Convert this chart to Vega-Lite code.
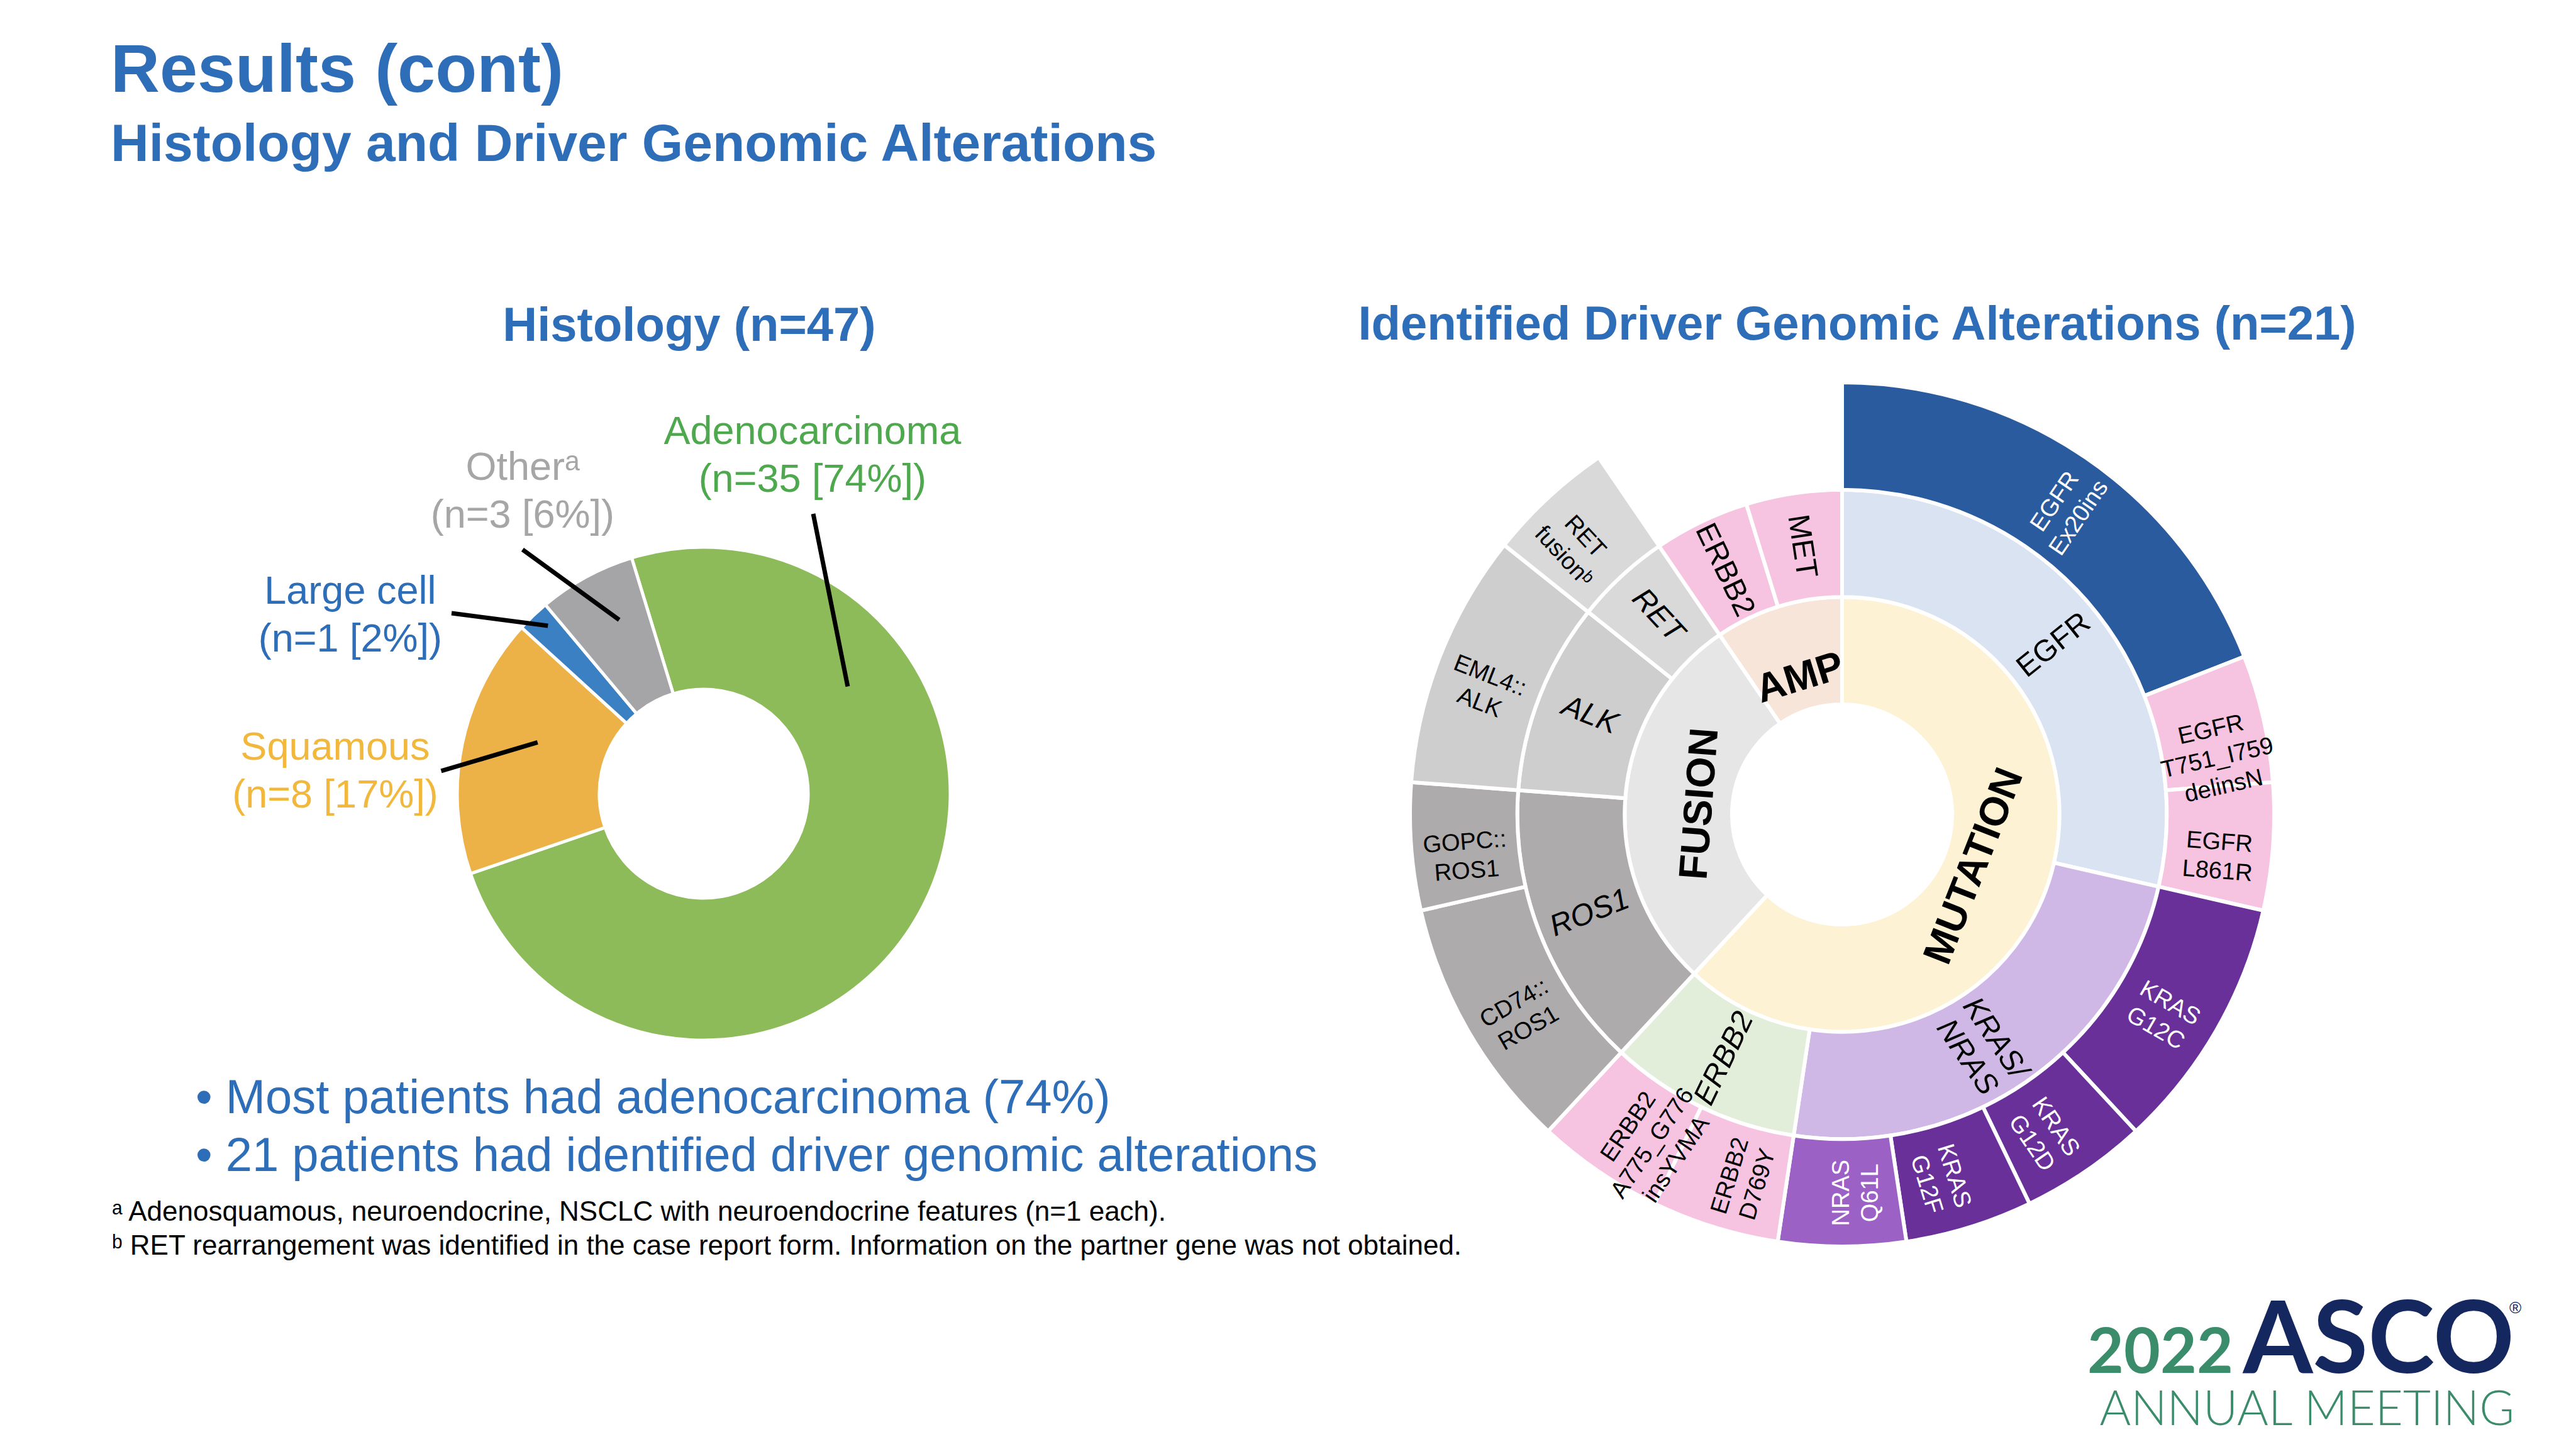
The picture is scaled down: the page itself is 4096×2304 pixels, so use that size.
{
  "$schema": "https://vega.github.io/schema/vega-lite/v6.json",
  "background": "white",
  "padding": {"left": 176, "top": 60, "right": 0, "bottom": 0},
  "bounds": "flush",
  "spacing": 1886,
  "config": {"view": {"stroke": null}, "font": "Liberation Sans"},
  "title": {
    "text": "Results (cont)",
    "subtitle": "Histology and Driver Genomic Alterations",
    "anchor": "start",
    "frame": "group",
    "font": "Liberation Sans",
    "fontSize": 108,
    "fontWeight": "bold",
    "color": "#2E6DB7",
    "subtitleFont": "Liberation Sans",
    "subtitleFontSize": 84,
    "subtitleFontWeight": "bold",
    "subtitleColor": "#2E6DB7",
    "subtitlePadding": 21,
    "offset": 205
  },
  "hconcat": [
    {
      "spacing": 68,
      "bounds": "flush",
      "vconcat": [
        {
          "width": 1886,
          "height": 880,
          "title": {"text": "Histology (n=47)", "frame": "group", "font": "Liberation Sans", "fontSize": 76, "fontWeight": "bold", "color": "#2E6DB7", "dx": -23, "offset": 98},
          "resolve": {"scale": {"color": "independent"}},
          "layer": [
            {
              "data": {"values": [
                {"type": "Adenocarcinoma", "n": 35, "order": 1},
                {"type": "Squamous", "n": 8, "order": 2},
                {"type": "Large cell", "n": 1, "order": 3},
                {"type": "Other", "n": 3, "order": 4}
              ]},
              "mark": {"type": "arc", "outerRadius": 392, "innerRadius": 166, "stroke": "white", "strokeWidth": 5},
              "encoding": {
                "theta": {"field": "n", "type": "quantitative", "stack": true, "scale": {"range": [-0.2967, 5.9865]}},
                "order": {"field": "order", "type": "quantitative"},
                "color": {"field": "type", "type": "nominal", "scale": {"domain": ["Adenocarcinoma", "Squamous", "Large cell", "Other"], "range": ["#8DBB5A", "#EDB247", "#3A80C3", "#A5A5A7"]}, "legend": null}
              }
            },
            {
              "data": {"values": [
                {"type": "Adenocarcinoma", "x1": 0.444, "y1": 1.135, "x2": 0.584, "y2": 0.435},
                {"type": "Other", "x1": -0.735, "y1": 0.990, "x2": -0.343, "y2": 0.705},
                {"type": "Large cell", "x1": -1.023, "y1": 0.732, "x2": -0.632, "y2": 0.681},
                {"type": "Squamous", "x1": -1.065, "y1": 0.092, "x2": -0.674, "y2": 0.208}
              ]},
              "mark": {"type": "rule", "color": "black", "strokeWidth": 7},
              "encoding": {
                "x": {"field": "x1", "type": "quantitative", "scale": {"domain": [-2.4056, 2.4056], "nice": false, "zero": false}, "axis": null},
                "y": {"field": "y1", "type": "quantitative", "scale": {"domain": [-1.1224, 1.1224], "nice": false, "zero": false}, "axis": null},
                "x2": {"field": "x2"},
                "y2": {"field": "y2"}
              }
            },
            {
              "data": {"values": [
                {"type": "Adenocarcinoma", "text": "Adenocarcinoma\n(n=35 [74%])", "lx": 0.441, "ly": 1.418},
                {"type": "Other", "text": "Otherᵃ\n(n=3 [6%])", "lx": -0.735, "ly": 1.273},
                {"type": "Large cell", "text": "Large cell\n(n=1 [2%])", "lx": -1.434, "ly": 0.770},
                {"type": "Squamous", "text": "Squamous\n(n=8 [17%])", "lx": -1.495, "ly": 0.138}
              ]},
              "mark": {"type": "text", "font": "Liberation Sans", "fontSize": 63, "lineHeight": 76, "lineBreak": "\n", "align": "center", "baseline": "alphabetic"},
              "encoding": {
                "x": {"field": "lx", "type": "quantitative", "scale": {"domain": [-2.4056, 2.4056], "nice": false, "zero": false}, "axis": null},
                "y": {"field": "ly", "type": "quantitative", "scale": {"domain": [-1.1224, 1.1224], "nice": false, "zero": false}, "axis": null},
                "text": {"field": "text"},
                "color": {"field": "type", "type": "nominal", "scale": {"domain": ["Adenocarcinoma", "Squamous", "Large cell", "Other"], "range": ["#4EA94E", "#F2B83D", "#2E6DB7", "#A6A6A6"]}, "legend": null}
              }
            }
          ]
        },
        {
          "width": 270,
          "height": 103,
          "data": {"values": [
            {"line": 1, "text": "• Most patients had adenocarcinoma (74%)"},
            {"line": 2, "text": "• 21 patients had identified driver genomic alterations"}
          ]},
          "mark": {"type": "text", "align": "left", "baseline": "alphabetic", "font": "Liberation Sans", "fontSize": 76, "color": "#2E6DB7"},
          "encoding": {
            "y": {"field": "line", "type": "ordinal", "scale": {"type": "point", "range": [0, 92], "padding": 0}, "axis": null},
            "text": {"field": "text"}
          }
        },
        {
          "width": 4,
          "height": 54,
          "data": {"values": [
            {"line": 1, "text": "ᵃ Adenosquamous, neuroendocrine, NSCLC with neuroendocrine features (n=1 each)."},
            {"line": 2, "text": "ᵇ RET rearrangement was identified in the case report form. Information on the partner gene was not obtained."}
          ]},
          "mark": {"type": "text", "align": "left", "baseline": "alphabetic", "font": "Liberation Sans", "fontSize": 44, "color": "black"},
          "encoding": {
            "y": {"field": "line", "type": "ordinal", "scale": {"type": "point", "padding": 0}, "axis": null},
            "text": {"field": "text"}
          }
        }
      ]
    },
    {
      "spacing": 0,
      "bounds": "flush",
      "vconcat": [
        {
          "width": 1734,
          "height": 946,
          "title": {"text": "Identified Driver Genomic Alterations (n=21)", "frame": "group", "font": "Liberation Sans", "fontSize": 76, "fontWeight": "bold", "color": "#2E6DB7", "dx": 24, "offset": 40},
          "data": {"values": [
            {"ring": 1, "id": "mut", "label": "MUTATION", "n": 13, "order": 1},
            {"ring": 1, "id": "fus", "label": "FUSION", "n": 6, "order": 2},
            {"ring": 1, "id": "amp", "label": "AMP", "n": 2, "order": 3},
            {"ring": 2, "id": "egfr", "label": "EGFR", "n": 6, "order": 1},
            {"ring": 2, "id": "krasnras", "label": "KRAS/\nNRAS", "n": 5, "order": 2},
            {"ring": 2, "id": "erbb2m", "label": "ERBB2", "n": 2, "order": 3},
            {"ring": 2, "id": "ros1", "label": "ROS1", "n": 3, "order": 4},
            {"ring": 2, "id": "alk", "label": "ALK", "n": 2, "order": 5},
            {"ring": 2, "id": "ret", "label": "RET", "n": 1, "order": 6},
            {"ring": 2, "id": "erbb2a", "label": "ERBB2", "n": 1, "order": 7},
            {"ring": 2, "id": "met", "label": "MET", "n": 1, "order": 8},
            {"ring": 3, "id": "ex20", "label": "EGFR\nEx20ins", "n": 4, "order": 1},
            {"ring": 3, "id": "t751", "label": "EGFR\nT751_I759\ndelinsN", "n": 1, "order": 2},
            {"ring": 3, "id": "l861r", "label": "EGFR\nL861R", "n": 1, "order": 3},
            {"ring": 3, "id": "g12c", "label": "KRAS\nG12C", "n": 2, "order": 4},
            {"ring": 3, "id": "g12d", "label": "KRAS\nG12D", "n": 1, "order": 5},
            {"ring": 3, "id": "g12f", "label": "KRAS\nG12F", "n": 1, "order": 6},
            {"ring": 3, "id": "q61l", "label": "NRAS\nQ61L", "n": 1, "order": 7},
            {"ring": 3, "id": "d769y", "label": "ERBB2\nD769Y", "n": 1, "order": 8},
            {"ring": 3, "id": "a775", "label": "ERBB2\nA775_G776\ninsYVMA", "n": 1, "order": 9},
            {"ring": 3, "id": "cd74", "label": "CD74::\nROS1", "n": 2, "order": 10},
            {"ring": 3, "id": "gopc", "label": "GOPC::\nROS1", "n": 1, "order": 11},
            {"ring": 3, "id": "eml4", "label": "EML4::\nALK", "n": 2, "order": 12},
            {"ring": 3, "id": "retf", "label": "RET\nfusionᵇ", "n": 1, "order": 13},
            {"ring": 3, "id": "blank", "label": "", "n": 2, "order": 14}
          ]},
          "transform": [
            {"stack": "n", "groupby": ["ring"], "sort": [{"field": "order", "order": "ascending"}], "as": ["s0", "s1"]}
          ],
          "resolve": {"scale": {"angle": "independent"}},
          "layer": [
            {
              "transform": [{"filter": "datum.ring == 1"}],
              "mark": {"type": "arc", "stroke": "white", "strokeWidth": 6},
              "encoding": {
                "theta": {"field": "s0", "type": "quantitative", "stack": null, "scale": {"domain": [0, 21], "range": [0, 6.283185]}},
                "theta2": {"field": "s1"},
                "radius": {"datum": 1, "type": "quantitative", "scale": {"type": "linear", "domain": [0, 3], "range": [175, 687], "zero": false, "nice": false}},
                "radius2": {"datum": 0},
                "color": {"field": "id", "type": "nominal", "legend": null, "scale": {
                  "domain": ["mut", "fus", "amp", "egfr", "krasnras", "erbb2m", "ros1", "alk", "ret", "erbb2a", "met", "ex20", "t751", "l861r", "g12c", "g12d", "g12f", "q61l", "d769y", "a775", "cd74", "gopc", "eml4", "retf"],
                  "range": ["#FDF2D3", "#E6E6E6", "#F7E5DA", "#DAE3F2", "#D0B8E6", "#E3EEDA", "#AEABAC", "#CFCECF", "#D9D9D9", "#F6C4E1", "#F6C4E1", "#2A5B9E", "#F6C4E1", "#F6C4E1", "#6A309A", "#6A309A", "#6A309A", "#9B61C5", "#F6C4E1", "#F6C4E1", "#AEABAC", "#AEABAC", "#CFCECF", "#D9D9D9"]
                }}
              }
            },
            {
              "transform": [{"filter": "datum.ring == 2"}],
              "mark": {"type": "arc", "stroke": "white", "strokeWidth": 6},
              "encoding": {
                "theta": {"field": "s0", "type": "quantitative", "stack": null, "scale": {"domain": [0, 21], "range": [0, 6.283185]}},
                "theta2": {"field": "s1"},
                "radius": {"datum": 2, "type": "quantitative", "scale": {"type": "linear", "domain": [0, 3], "range": [175, 687], "zero": false, "nice": false}},
                "radius2": {"datum": 1},
                "color": {"field": "id", "type": "nominal", "legend": null}
              }
            },
            {
              "transform": [{"filter": "datum.ring == 3 && datum.id != 'blank'"}],
              "mark": {"type": "arc", "stroke": "white", "strokeWidth": 6},
              "encoding": {
                "theta": {"field": "s0", "type": "quantitative", "stack": null, "scale": {"domain": [0, 21], "range": [0, 6.283185]}},
                "theta2": {"field": "s1"},
                "radius": {"datum": 3, "type": "quantitative", "scale": {"type": "linear", "domain": [0, 3], "range": [175, 687], "zero": false, "nice": false}},
                "radius2": {"datum": 2},
                "color": {"field": "id", "type": "nominal", "legend": null}
              }
            },
            {
              "transform": [
                {"fold": ["s0", "s1"], "as": ["edge", "pos"]},
                {"aggregate": [{"op": "mean", "field": "pos", "as": "mid"}], "groupby": ["ring", "id", "label"]},
                {"filter": "datum.ring == 1"}
              ],
              "mark": {"type": "text", "font": "Liberation Sans", "fontSize": 64, "fontWeight": "bold", "align": "center", "baseline": "middle", "color": "black"},
              "encoding": {
                "theta": {"field": "mid", "type": "quantitative", "stack": null, "scale": {"domain": [0, 21], "range": [0, 6.283185]}},
                "radius": {"datum": 0.3, "type": "quantitative", "scale": {"type": "linear", "domain": [0, 3], "range": [175, 687], "zero": false, "nice": false}},
                "angle": {"field": "mid", "type": "quantitative", "scale": {"domain": [0, 10.49, 10.5, 21], "range": [-180, -0.17, -180, 0], "zero": false, "nice": false}},
                "text": {"field": "label"}
              }
            },
            {
              "transform": [
                {"fold": ["s0", "s1"], "as": ["edge", "pos"]},
                {"aggregate": [{"op": "mean", "field": "pos", "as": "mid"}], "groupby": ["ring", "id", "label"]},
                {"filter": "datum.ring == 2 && indexof(['egfr', 'erbb2a', 'met'], datum.id) >= 0"}
              ],
              "mark": {"type": "text", "font": "Liberation Sans", "fontSize": 48, "align": "center", "baseline": "middle", "lineBreak": "\n", "lineHeight": 54, "color": "black"},
              "encoding": {
                "theta": {"field": "mid", "type": "quantitative", "stack": null, "scale": {"domain": [0, 21], "range": [0, 6.283185]}},
                "radius": {"datum": 1.5, "type": "quantitative", "scale": {"type": "linear", "domain": [0, 3], "range": [175, 687], "zero": false, "nice": false}},
                "angle": {"field": "mid", "type": "quantitative", "scale": {"domain": [0, 10.49, 10.5, 21], "range": [-90, 89.83, -90, 90], "zero": false, "nice": false}},
                "text": {"field": "label"}
              }
            },
            {
              "transform": [
                {"fold": ["s0", "s1"], "as": ["edge", "pos"]},
                {"aggregate": [{"op": "mean", "field": "pos", "as": "mid"}], "groupby": ["ring", "id", "label"]},
                {"filter": "datum.ring == 2 && indexof(['egfr', 'erbb2a', 'met'], datum.id) < 0"}
              ],
              "mark": {"type": "text", "font": "Liberation Sans", "fontSize": 48, "fontStyle": "italic", "align": "center", "baseline": "middle", "lineBreak": "\n", "lineHeight": 54, "color": "black"},
              "encoding": {
                "theta": {"field": "mid", "type": "quantitative", "stack": null, "scale": {"domain": [0, 21], "range": [0, 6.283185]}},
                "radius": {"datum": 1.5, "type": "quantitative", "scale": {"type": "linear", "domain": [0, 3], "range": [175, 687], "zero": false, "nice": false}},
                "angle": {"field": "mid", "type": "quantitative", "scale": {"domain": [0, 10.49, 10.5, 21], "range": [-90, 89.83, -90, 90], "zero": false, "nice": false}},
                "text": {"field": "label"}
              }
            },
            {
              "transform": [
                {"fold": ["s0", "s1"], "as": ["edge", "pos"]},
                {"aggregate": [{"op": "mean", "field": "pos", "as": "mid"}], "groupby": ["ring", "id", "label"]},
                {"filter": "datum.ring == 3 && datum.id != 'blank'"}
              ],
              "mark": {"type": "text", "font": "Liberation Sans", "fontSize": 38, "align": "center", "baseline": "middle", "lineBreak": "\n", "lineHeight": 46},
              "encoding": {
                "theta": {"field": "mid", "type": "quantitative", "stack": null, "scale": {"domain": [0, 21], "range": [0, 6.283185]}},
                "radius": {"datum": 2.5, "type": "quantitative", "scale": {"type": "linear", "domain": [0, 3], "range": [175, 687], "zero": false, "nice": false}},
                "angle": {"field": "mid", "type": "quantitative", "scale": {"domain": [0, 10.49, 10.5, 21], "range": [-90, 89.83, -90, 90], "zero": false, "nice": false}},
                "text": {"field": "label"},
                "color": {"condition": {"test": "indexof(['ex20', 'g12c', 'g12d', 'g12f', 'q61l'], datum.id) >= 0", "value": "white"}, "value": "black"}
              }
            }
          ]
        },
        {
          "width": 1936,
          "height": 498,
          "data": {"values": [
            {"part": "year", "text": "2022"},
            {"part": "name", "text": "ASCO"},
            {"part": "reg", "text": "®"},
            {"part": "meeting", "text": "ANNUAL MEETING"}
          ]},
          "layer": [
            {
              "transform": [{"filter": "datum.part == 'meeting'"}],
              "mark": {"type": "text", "align": "right", "baseline": "alphabetic", "font": "Lato", "fontSize": 76, "fontWeight": 300, "color": "#3B8C6A"},
              "encoding": {"x": {"value": "width"}, "y": {"value": "height"}, "text": {"field": "text"}}
            },
            {
              "transform": [{"filter": "datum.part == 'name'"}],
              "mark": {"type": "text", "align": "right", "baseline": "alphabetic", "font": "Lato", "fontSize": 160, "fontWeight": "bold", "color": "#14275E", "dy": -83},
              "encoding": {"x": {"value": "width"}, "y": {"value": "height"}, "text": {"field": "text"}}
            },
            {
              "transform": [{"filter": "datum.part == 'year'"}],
              "mark": {"type": "text", "align": "right", "baseline": "alphabetic", "font": "Lato", "fontSize": 100, "fontWeight": "bold", "color": "#3B8C6A", "dx": -447, "dy": -83},
              "encoding": {"x": {"value": "width"}, "y": {"value": "height"}, "text": {"field": "text"}}
            },
            {
              "transform": [{"filter": "datum.part == 'reg'"}],
              "mark": {"type": "text", "align": "left", "baseline": "alphabetic", "font": "Liberation Sans", "fontSize": 26, "color": "#14275E", "dx": -8, "dy": -178},
              "encoding": {"x": {"value": "width"}, "y": {"value": "height"}, "text": {"field": "text"}}
            }
          ]
        }
      ]
    }
  ]
}
